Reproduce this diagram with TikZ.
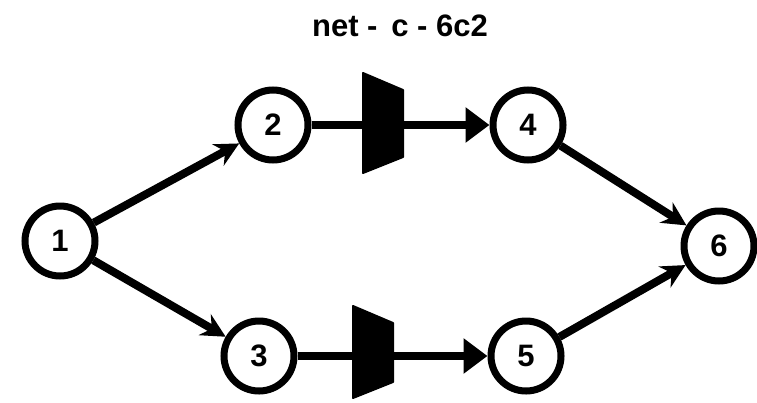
\documentclass[tikz,border=0pt]{standalone}
\usepackage{fontspec}
\setmainfont{Liberation Sans}
\usetikzlibrary{arrows.meta}
\tikzset{
  ev/.style={draw, line width=7pt, circle, inner sep=0pt, minimum size=70pt, font=\fontsize{31}{31}\selectfont\bfseries},
  act/.style={line width=8pt, -{Stealth[length=24pt,width=24pt,inset=8pt]}},
  plain/.style={line width=8pt},
  tri/.style={line width=8pt, -{Triangle[length=24pt,width=34pt]}},
  gate/.style={fill=black, draw=black, line width=2pt, line join=round}
}
\begin{document}
\begin{tikzpicture}[x=1pt,y=-1pt]
\useasboundingbox (0,0) rectangle (757,402);
\node[font=\fontsize{31}{31}\selectfont\bfseries] (title) at (400,26) {net -\, c - 6c2};
\node[ev] (n1) at (60,241) {1};
\node[ev] (n2) at (273,125) {2};
\node[ev] (n4) at (528,125) {4};
\node[ev] (n3) at (259,356) {3};
\node[ev] (n5) at (526,356) {5};
\node[ev] (n6) at (719,246) {6};
\coordinate (g1l) at (363,125);
\coordinate (g1r) at (403,125);
\coordinate (g2l) at (353,356);
\coordinate (g2r) at (393,356);
\filldraw[gate] (363,73) -- (403,90) -- (403,157) -- (363,173) -- cycle;
\filldraw[gate] (353,306) -- (393,323) -- (393,382) -- (353,398) -- cycle;
\draw[act] (n1) -- (n2);
\draw[act] (n1) -- (n3);
\draw[plain] (n2) -- (g1l);
\draw[tri] (g1r) -- (n4);
\draw[plain] (n3) -- (g2l);
\draw[tri] (g2r) -- (n5);
\draw[act] (n4) -- (n6);
\draw[act] (n5) -- (n6);
\end{tikzpicture}
\end{document}
